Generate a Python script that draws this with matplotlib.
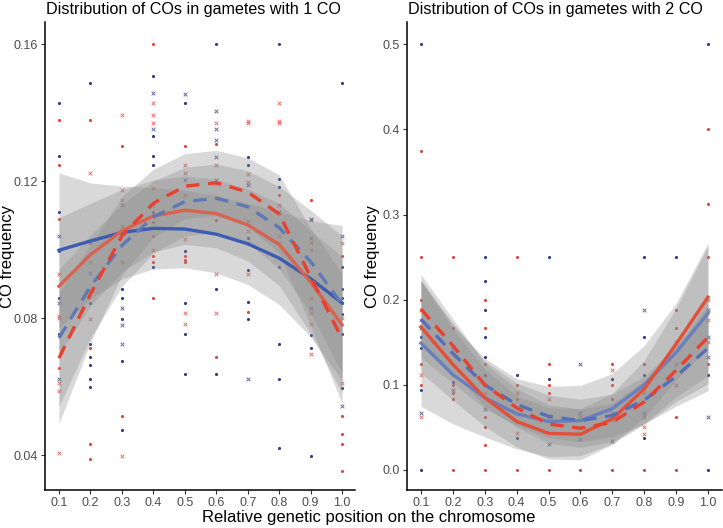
import numpy as np
import matplotlib.pyplot as plt

plt.rcParams["font.family"] = ["Liberation Sans", "DejaVu Sans"]

# === positions on the chromosome ===
pos = [0.1, 0.2, 0.3, 0.4, 0.5, 0.6, 0.7, 0.8, 0.9, 1.0]

# === fitted curves, panel 1 CO ===
left_blue_solid = [0.0998, 0.1025, 0.1050, 0.1062, 0.1060, 0.1045, 0.1017, 0.0975, 0.0915, 0.0844]
left_red_solid = [0.0893, 0.0985, 0.1055, 0.1098, 0.1115, 0.1105, 0.1072, 0.1015, 0.0905, 0.0780]
left_blue_dash = [0.0742, 0.0892, 0.1012, 0.1095, 0.1140, 0.1150, 0.1125, 0.1064, 0.0965, 0.0840]
left_red_dash = [0.0683, 0.0870, 0.1040, 0.1135, 0.1185, 0.1195, 0.1168, 0.1104, 0.0920, 0.0740]
left_se = [0.020, 0.015, 0.012, 0.0105, 0.010, 0.010, 0.0105, 0.012, 0.015, 0.020]
left_se_scale = [1.13, 1.0, 1.0, 0.95]

# === fitted curves, panel 2 CO ===
right_blue_solid = [0.149, 0.112, 0.085, 0.066, 0.057, 0.058, 0.072, 0.100, 0.138, 0.184]
right_red_solid = [0.168, 0.124, 0.085, 0.057, 0.043, 0.042, 0.060, 0.095, 0.148, 0.203]
right_blue_dash = [0.177, 0.137, 0.100, 0.077, 0.063, 0.058, 0.064, 0.082, 0.110, 0.143]
right_red_dash = [0.189, 0.146, 0.100, 0.073, 0.054, 0.049, 0.056, 0.080, 0.117, 0.156]
right_se = [0.045, 0.035, 0.028, 0.025, 0.025, 0.025, 0.025, 0.028, 0.035, 0.050]
right_se_scale = [1.65, 1.2, 1.0, 0.9]

# === observed points, panel 1 CO ===
left_red_dot = [(0.1, 0.1378), (0.1, 0.1247), (0.1, 0.109), (0.1, 0.0654),
                (0.2, 0.1378), (0.2, 0.102), (0.2, 0.0712), (0.2, 0.0432), (0.2, 0.0388),
                (0.3, 0.1302), (0.3, 0.0514),
                (0.4, 0.16), (0.4, 0.108), (0.4, 0.104), (0.4, 0.098), (0.4, 0.0963), (0.4, 0.0858),
                (0.5, 0.1302), (0.5, 0.098), (0.5, 0.0969), (0.5, 0.0963),
                (0.6, 0.1308), (0.6, 0.1086), (0.6, 0.0686),
                (0.7, 0.0817),
                (0.8, 0.116), (0.8, 0.1105),
                (0.9, 0.1145),
                (1.0, 0.098), (1.0, 0.0514), (1.0, 0.0461), (1.0, 0.0432), (1.0, 0.0353)]
left_red_x = [(0.1, 0.0928), (0.1, 0.0806), (0.1, 0.080), (0.1, 0.061), (0.1, 0.0587), (0.1, 0.0406),
              (0.2, 0.1223), (0.2, 0.0963), (0.2, 0.0797),
              (0.3, 0.1393), (0.3, 0.1174), (0.3, 0.1145), (0.3, 0.1069), (0.3, 0.0963), (0.3, 0.0397),
              (0.4, 0.1428), (0.4, 0.1393), (0.4, 0.1369), (0.4, 0.118), (0.4, 0.113), (0.4, 0.100),
              (0.5, 0.1247), (0.5, 0.1223), (0.5, 0.116), (0.5, 0.103), (0.5, 0.0814), (0.5, 0.0782),
              (0.6, 0.1369), (0.6, 0.1247), (0.6, 0.1191), (0.6, 0.115), (0.6, 0.0928), (0.6, 0.0814),
              (0.7, 0.1375), (0.7, 0.137), (0.7, 0.122), (0.7, 0.1197), (0.7, 0.1083), (0.7, 0.1054),
              (0.7, 0.102), (0.7, 0.0928),
              (0.8, 0.1428), (0.8, 0.1375), (0.8, 0.137), (0.8, 0.113), (0.8, 0.1066), (0.8, 0.104), (0.8, 0.102),
              (0.9, 0.1086), (0.9, 0.102), (0.9, 0.0999), (0.9, 0.0858), (0.9, 0.0814), (0.9, 0.0782), (0.9, 0.0695),
              (1.0, 0.102), (1.0, 0.080), (1.0, 0.061)]
left_blue_dot = [(0.1, 0.1428), (0.1, 0.1273), (0.1, 0.111), (0.1, 0.0996), (0.1, 0.0858), (0.1, 0.0753),
                 (0.2, 0.1486), (0.2, 0.0844), (0.2, 0.0724), (0.2, 0.0686), (0.2, 0.0663), (0.2, 0.0622), (0.2, 0.0598),
                 (0.3, 0.0885), (0.3, 0.0858), (0.3, 0.0797), (0.3, 0.0674), (0.3, 0.0473),
                 (0.4, 0.1507), (0.4, 0.1331), (0.4, 0.1273), (0.4, 0.1247), (0.4, 0.111), (0.4, 0.0949),
                 (0.5, 0.1428), (0.5, 0.0996), (0.5, 0.0844), (0.5, 0.0753), (0.5, 0.0636),
                 (0.6, 0.16), (0.6, 0.0885), (0.6, 0.0636),
                 (0.7, 0.127), (0.7, 0.1247), (0.7, 0.1034), (0.7, 0.094), (0.7, 0.0847), (0.7, 0.0797),
                 (0.8, 0.16), (0.8, 0.1206), (0.8, 0.1183), (0.8, 0.0949), (0.8, 0.0724), (0.8, 0.0622), (0.8, 0.042),
                 (0.9, 0.075), (0.9, 0.0712), (0.9, 0.0397),
                 (1.0, 0.1486), (1.0, 0.0949), (1.0, 0.0885), (1.0, 0.0858), (1.0, 0.0844), (1.0, 0.0812),
                 (1.0, 0.0753), (1.0, 0.0596)]
left_blue_x = [(0.1, 0.104), (0.1, 0.0844), (0.1, 0.0622),
               (0.2, 0.0931),
               (0.3, 0.113), (0.3, 0.0829), (0.3, 0.078), (0.3, 0.0724),
               (0.4, 0.1457), (0.4, 0.1352),
               (0.5, 0.1454), (0.5, 0.1203),
               (0.6, 0.1404), (0.6, 0.1352), (0.6, 0.132), (0.6, 0.127), (0.6, 0.1203),
               (0.7, 0.1188), (0.7, 0.0622),
               (0.8, 0.111),
               (0.9, 0.109), (0.9, 0.1034), (0.9, 0.083),
               (1.0, 0.104), (1.0, 0.0543)]

# === observed points, panel 2 CO ===
right_red_dot = [(0.1, 0.375), (0.1, 0.25), (0.1, 0.2), (0.1, 0.125), (0.1, 0.1),
                 (0.2, 0.25), (0.2, 0.167), (0.2, 0.1), (0.2, 0.0909), (0.2, 0.0833), (0.2, 0.0),
                 (0.3, 0.2), (0.3, 0.167), (0.3, 0.125), (0.3, 0.0625), (0.3, 0.05), (0.3, 0.0294), (0.3, 0.0),
                 (0.4, 0.25), (0.4, 0.1), (0.4, 0.0833), (0.4, 0.0),
                 (0.5, 0.125), (0.5, 0.1), (0.5, 0.0909), (0.5, 0.0),
                 (0.6, 0.0),
                 (0.7, 0.125), (0.7, 0.1), (0.7, 0.0833), (0.7, 0.0),
                 (0.8, 0.125), (0.8, 0.0),
                 (0.9, 0.1875), (0.9, 0.167), (0.9, 0.0625), (0.9, 0.0),
                 (1.0, 0.4), (1.0, 0.3125), (1.0, 0.25), (1.0, 0.125)]
right_red_x = [(0.1, 0.1875), (0.1, 0.176), (0.1, 0.111), (0.1, 0.0625),
               (0.3, 0.1), (0.3, 0.0909),
               (0.4, 0.0909), (0.4, 0.0435),
               (0.5, 0.0833), (0.5, 0.0625),
               (0.6, 0.0625),
               (0.7, 0.118), (0.7, 0.0588),
               (0.8, 0.0909), (0.8, 0.0625), (0.8, 0.05), (0.8, 0.042),
               (0.9, 0.15), (0.9, 0.125), (0.9, 0.1),
               (1.0, 0.2), (1.0, 0.176), (1.0, 0.15)]
right_blue_dot = [(0.1, 0.5), (0.1, 0.156), (0.1, 0.143), (0.1, 0.094), (0.1, 0.0),
                  (0.2, 0.111), (0.2, 0.1037),
                  (0.3, 0.25), (0.3, 0.222), (0.3, 0.1875), (0.3, 0.156), (0.3, 0.133), (0.3, 0.111),
                  (0.4, 0.111), (0.4, 0.037),
                  (0.5, 0.25), (0.5, 0.107),
                  (0.7, 0.107),
                  (0.8, 0.25), (0.8, 0.156), (0.8, 0.111), (0.8, 0.037),
                  (0.9, 0.25),
                  (1.0, 0.5), (1.0, 0.111), (1.0, 0.0)]
right_blue_x = [(0.1, 0.167), (0.1, 0.067),
                (0.2, 0.143), (0.2, 0.094),
                (0.3, 0.0714),
                (0.5, 0.031),
                (0.6, 0.125), (0.6, 0.067), (0.6, 0.036),
                (0.7, 0.067), (0.7, 0.034),
                (0.8, 0.1875), (0.8, 0.067),
                (1.0, 0.1875), (1.0, 0.156), (1.0, 0.133), (1.0, 0.0625)]

# === styles (blue solid, red solid, blue dashed, red dashed) ===
RED_PT = "#E0463C"
BLUE_PT = "#2E3A8C"
left_line_colors = ["#3D5DB3", "#D8634F", "#6079B5", "#E8412F"]
right_line_colors = ["#6A80BC", "#E2503A", "#5370B8", "#E8412F"]
line_kinds = ["-", "-", "--", "--"]


def draw_panel(ax, curves, se, se_scale, colors, pts, xlim, ylim, yticks, ylabels, title, ylab_x):
    # puntos
    for data, col, mk in pts:
        arr = np.array(data)
        if mk == "o":
            ax.scatter(arr[:, 0], arr[:, 1], s=5, color=col, marker="o", linewidths=0, zorder=1)
        else:
            ax.scatter(arr[:, 0], arr[:, 1], s=7, color=col, marker="x", linewidths=0.7, alpha=0.75, zorder=1)
    # bandas de confianza
    for yv, k in zip(curves, se_scale):
        yv = np.array(yv)
        hw = np.array(se) * k
        ax.fill_between(pos, yv - hw, yv + hw, color="#8C8C8C", alpha=0.33, linewidth=0, zorder=2)
    # curvas
    for yv, col, ls in zip(curves, colors, line_kinds):
        if ls == "--":
            ax.plot(pos, yv, color=col, linewidth=2.4, linestyle=(0, (4, 2.6)), zorder=3)
        else:
            ax.plot(pos, yv, color=col, linewidth=2.4, zorder=3)

    ax.set_xlim(*xlim)
    ax.set_ylim(*ylim)
    ax.set_xticks(pos)
    ax.set_xticklabels([f"{p:.1f}" for p in pos])
    ax.set_yticks(yticks)
    ax.set_yticklabels(ylabels)
    for s in ["top", "right"]:
        ax.spines[s].set_visible(False)
    for s in ["left", "bottom"]:
        ax.spines[s].set_linewidth(1.1)
    ax.tick_params(length=3, width=0.8, colors="#333333", labelsize=9, labelcolor="#4D4D4D", pad=2)
    ax.set_ylabel("CO frequency", fontsize=12)
    ax.yaxis.set_label_coords(ylab_x, 0.5)
    ax.set_title(title, fontsize=11.6, loc="left", pad=6, x=0.003)


fig = plt.figure(figsize=(7.23, 5.28), dpi=100)
ax1 = fig.add_axes([0.0622, 0.072, 0.4288, 0.886])
ax2 = fig.add_axes([0.5625, 0.072, 0.4361, 0.886])

draw_panel(ax1,
           [left_blue_solid, left_red_solid, left_blue_dash, left_red_dash],
           left_se, left_se_scale, left_line_colors,
           [(left_red_x, RED_PT, "x"), (left_blue_x, BLUE_PT, "x"),
            (left_red_dot, RED_PT, "o"), (left_blue_dot, BLUE_PT, "o")],
           (0.0555, 1.041), (0.0298, 0.1664),
           [0.04, 0.08, 0.12, 0.16], ["0.04", "0.08", "0.12", "0.16"],
           "Distribution of COs in gametes with 1 CO", -0.097)

draw_panel(ax2,
           [right_blue_solid, right_red_solid, right_blue_dash, right_red_dash],
           right_se, right_se_scale, right_line_colors,
           [(right_red_x, RED_PT, "x"), (right_blue_x, BLUE_PT, "x"),
            (right_red_dot, RED_PT, "o"), (right_blue_dot, BLUE_PT, "o")],
           (0.0552, 1.044), (-0.0235, 0.526),
           [0.0, 0.1, 0.2, 0.3, 0.4, 0.5], ["0.0", "0.1", "0.2", "0.3", "0.4", "0.5"],
           "Distribution of COs in gametes with 2 CO", -0.085)

fig.text(0.51, 0.019, "Relative genetic position on the chromosome", ha="center", va="center", fontsize=12)

fig.savefig("out.png", dpi=100)
